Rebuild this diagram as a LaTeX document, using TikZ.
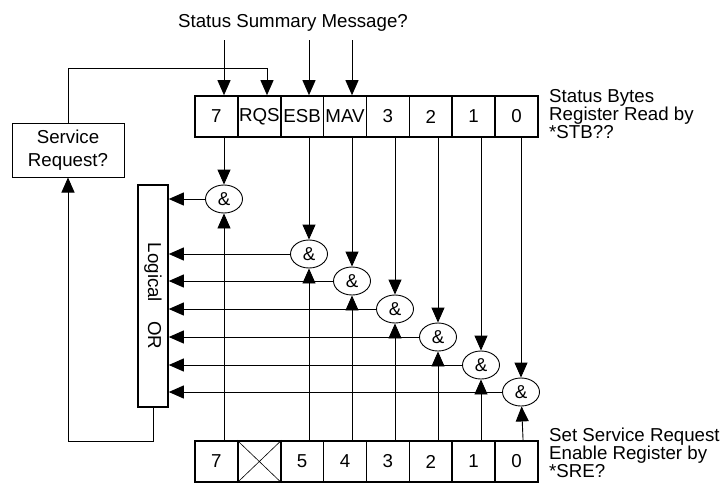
\documentclass[tikz,border=0pt]{standalone}
\usepackage{fontspec}
\usepackage{graphicx}
\setmainfont{Liberation Sans}
\usetikzlibrary{arrows.meta,shapes.geometric,calc}
\begin{document}
\begin{tikzpicture}[x=1pt,y=-1pt,
  every node/.style={font=\fontsize{18.7}{18}\selectfont},
  cell/.style={draw,line width=1.6pt,minimum width=42.875pt,minimum height=41pt,inner sep=0pt,anchor=center},
  andg/.style={draw,ellipse,line width=0.9pt,minimum width=37pt,minimum height=28pt,inner sep=0pt},
  wire/.style={line width=0.9pt},
  arr/.style={wire,-{Triangle[length=15pt,width=13pt]}},
  lbl/.style={anchor=base west,inner sep=0pt}]
\useasboundingbox (0,0) rectangle (725,483);

% status byte register (top)
\node[cell] (t7) at (216.44,116.5) {7};
\node[cell] (tR) at (259.31,116.5) {RQS};
\node[cell] (tE) at (302.19,116.5) {ESB};
\node[cell] (tM) at (345.06,116.5) {MAV};
\node[cell] (t3) at (387.94,116.5) {3};
\node[cell] (t2) at (430.81,116.5) {2};
\node[cell] (t1) at (473.69,116.5) {1};
\node[cell] (t0) at (516.56,116.5) {0};

% enable register (bottom)
\node[cell] (b7) at (216.44,461.5) {7};
\node[cell] (bX) at (259.31,461.5) {};
\node[cell] (b5) at (302.19,461.5) {5};
\node[cell] (b4) at (345.06,461.5) {4};
\node[cell] (b3) at (387.94,461.5) {3};
\node[cell] (b2) at (430.81,461.5) {2};
\node[cell] (b1) at (473.69,461.5) {1};
\node[cell] (b0) at (516.56,461.5) {0};
\draw[line width=0.6pt] (bX.north west) -- (bX.south east) (bX.south west) -- (bX.north east);

% service request and logical OR
\node[draw,line width=1pt,minimum width=112pt,minimum height=54pt,inner sep=0pt,align=center,
      font=\fontsize{18.7}{23}\selectfont] (sr) at (68,150) {Service\\Request?};
\node[draw,line width=1.6pt,minimum width=30pt,minimum height=222pt,inner sep=0pt] (or) at (153,296)
      {\rotatebox{-90}{Logical\hspace{19pt}OR}};

% AND gates
\node[andg] (a7) at (224,199) {\&};
\node[andg] (aE) at (309,254) {\&};
\node[andg] (aM) at (352,281) {\&};
\node[andg] (a3) at (395,309) {\&};
\node[andg] (a2) at (438,337) {\&};
\node[andg] (a1) at (481,365) {\&};
\node[andg] (a0) at (521,392) {\&};

% texts
\node[anchor=base,inner sep=0pt] (ssm) at (293,27) {Status Summary Message?};
\node[lbl] (l1) at (549,102) {Status Bytes};
\node[lbl] (l2) at (549,120) {Register Read by};
\node[lbl] (l3) at (549,138) {*STB??};
\node[lbl] (l4) at (549,441.5) {Set Service Request};
\node[lbl] (l5) at (549,459.5) {Enable Register by};
\node[lbl] (l6) at (549,477.5) {*SRE?};

% status summary message arrows
\coordinate (s7) at (224,40);
\coordinate (sE) at (309,40);
\coordinate (sM) at (352,40);
\draw[arr] (s7) -- (s7 |- t7.north);
\draw[arr] (sE) -- (sE |- tE.north);
\draw[arr] (sM) -- (sM |- tM.north);

% feedback to RQS
\coordinate (rq) at (267,68);
\draw[arr] (sr.north) |- (rq) -- (rq |- tR.north);

% status bits into gates
\draw[arr] (t7.south -| a7) -- (a7);
\draw[arr] (tE.south -| aE) -- (aE);
\draw[arr] (tM.south -| aM) -- (aM);
\draw[arr] (t3.south -| a3) -- (a3);
\draw[arr] (t2.south -| a2) -- (a2);
\draw[arr] (t1.south -| a1) -- (a1);
\draw[arr] (t0.south -| a0) -- (a0);

% enable bits into gates
\draw[arr] (b7.north -| a7) -- (a7);
\draw[arr] (b5.north -| aE) -- (aE);
\draw[arr] (b4.north -| aM) -- (aM);
\draw[arr] (b3.north -| a3) -- (a3);
\draw[arr] (b2.north -| a2) -- (a2);
\draw[arr] (b1.north -| a1) -- (a1);
\draw[arr] ($(b0.north)+(6.5,0)$) -- (a0);

% gates into logical OR
\draw[arr] (a7) -- (a7 -| or.east);
\draw[arr] (aE) -- (aE -| or.east);
\draw[arr] (aM) -- (aM -| or.east);
\draw[arr] (a3) -- (a3 -| or.east);
\draw[arr] (a2) -- (a2 -| or.east);
\draw[arr] (a1) -- (a1 -| or.east);
\draw[arr] (a0) -- (a0 -| or.east);

% OR output to service request
\coordinate (ob) at (153,441);
\draw[arr] (or.south) -- (ob) -| (sr.south);
\end{tikzpicture}
\end{document}
